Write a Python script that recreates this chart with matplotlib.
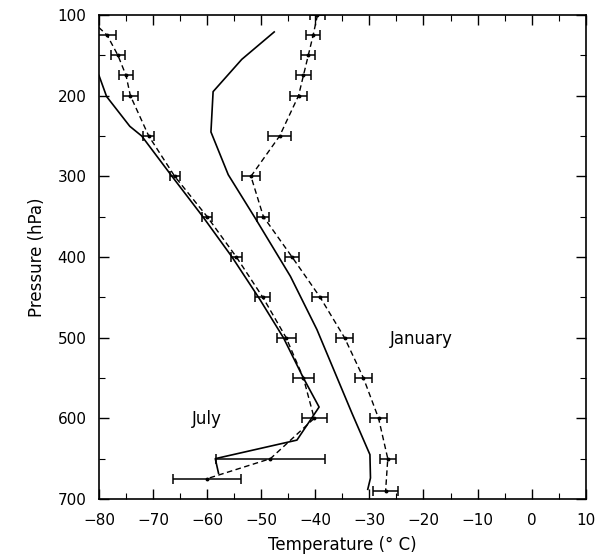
import numpy as np
import matplotlib
matplotlib.use('Agg')
import matplotlib.pyplot as plt
from matplotlib.ticker import MultipleLocator

# observed profiles (dashed, with error bars)
jul_obs_p = [100, 125, 150, 175, 200, 250, 300, 350, 400, 450, 500, 550, 600, 650, 675]
jul_obs_t = [-82.5, -78.5, -76.5, -75.0, -74.2, -70.8, -66.0, -60.0, -54.6, -49.7,
             -45.4, -42.2, -40.2, -48.3, -60.1]
jul_obs_err = [1.6, 1.6, 1.25, 1.25, 1.4, 1.05, 0.95, 0.95, 1.05, 1.4,
               1.75, 2.0, 2.3, 10.1, 6.3]

jan_obs_p = [100, 125, 150, 175, 200, 250, 300, 350, 400, 450, 500, 550, 600, 650, 690]
jan_obs_t = [-39.6, -40.4, -41.3, -42.2, -43.1, -46.6, -51.9, -49.6, -44.3, -39.1,
             -34.6, -31.1, -28.3, -26.6, -27.0]
jan_obs_err = [1.3, 1.3, 1.3, 1.45, 1.55, 2.15, 1.65, 1.1, 1.35, 1.5,
               1.6, 1.65, 1.6, 1.5, 2.35]

# model profiles (solid)
jul_mod_p = [175, 201, 238, 250, 300, 350, 400, 450, 500, 550, 586, 627, 650, 668]
jul_mod_t = [-80.0, -78.6, -74.3, -72.1, -66.5, -60.8, -55.4, -50.5, -45.9, -42.2,
             -39.3, -43.4, -58.5, -57.9]

jan_mod_p = [121, 155, 195, 245, 298, 352, 424, 490, 594, 645, 674, 688]
jan_mod_t = [-47.6, -53.6, -58.9, -59.3, -56.1, -51.1, -44.6, -39.7, -33.2, -29.9,
             -29.8, -30.3]

fig = plt.figure(figsize=(5.98, 5.59), dpi=100)
ax = fig.add_axes([99/598, 1-499/559, (585.7-99)/598, (499-15)/559])

dash = (0, (4, 2.5))
for t, p, e in [(jul_obs_t, jul_obs_p, jul_obs_err), (jan_obs_t, jan_obs_p, jan_obs_err)]:
    ax.plot(t, p, color='black', lw=1.0, linestyle=dash)
    ax.errorbar(t, p, xerr=e, fmt='o', ms=1.8, color='black', ecolor='black',
                elinewidth=1.1, capsize=3.5, capthick=1.1)

ax.plot(jul_mod_t, jul_mod_p, color='black', lw=1.2)
ax.plot(jan_mod_t, jan_mod_p, color='black', lw=1.2)

ax.text(-62.8, 601, 'July', fontsize=12, ha='left', va='center')
ax.text(-26.3, 502, 'January', fontsize=12, ha='left', va='center')

ax.set_xlim(-80, 10)
ax.set_ylim(700, 100)
ax.xaxis.set_major_locator(MultipleLocator(10))
ax.xaxis.set_minor_locator(MultipleLocator(5))
ax.yaxis.set_major_locator(MultipleLocator(100))
ax.yaxis.set_minor_locator(MultipleLocator(50))
ax.tick_params(which='both', direction='in', top=True, right=True, labelsize=11)
ax.tick_params(which='major', length=7, width=1.0)
ax.tick_params(which='minor', length=4, width=0.8)
ax.tick_params(axis='x', pad=10)
ax.tick_params(axis='y', pad=9)
for s in ax.spines.values():
    s.set_linewidth(1.2)

ax.set_xlabel('Temperature (° C)', fontsize=12, labelpad=6)
ax.set_ylabel('Pressure (hPa)', fontsize=12, labelpad=8)

fig.savefig('out.png', dpi=100)
